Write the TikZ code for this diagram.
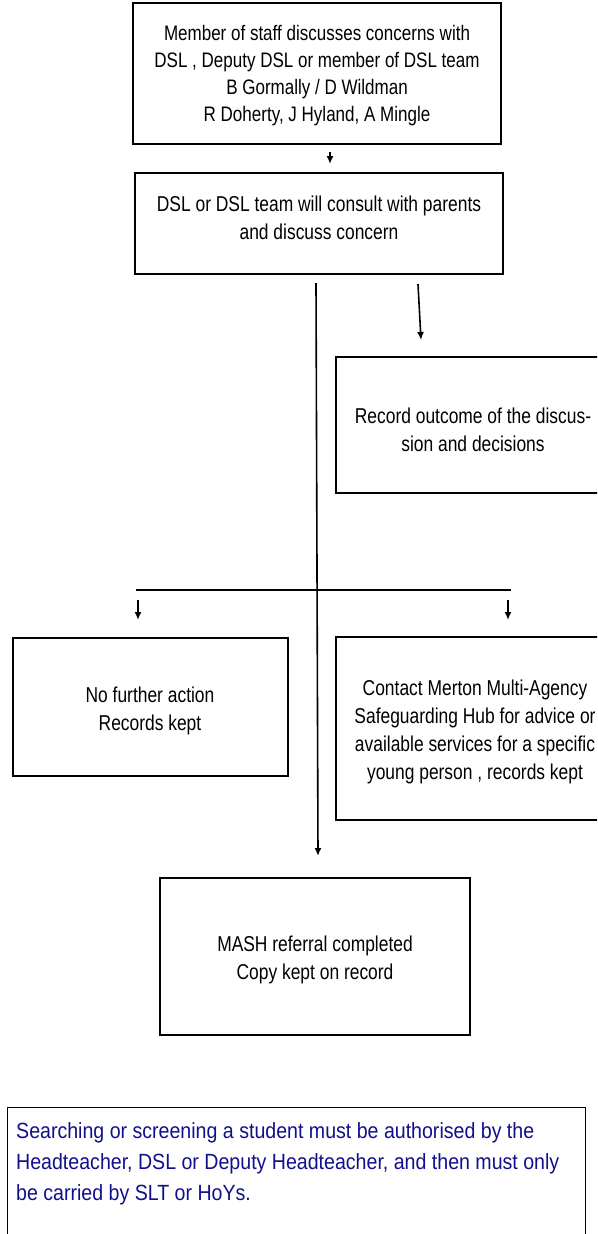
\documentclass[tikz,border=0pt]{standalone}
\usepackage{fontspec}
\setmainfont{Liberation Sans}
\newfontfamily\flowfont[FakeStretch=0.81]{Liberation Sans}
\newfontfamily\notefont[FakeStretch=0.89]{Liberation Sans}
\usetikzlibrary{arrows.meta}
\definecolor{navytext}{RGB}{16,16,140}
\begin{document}
\begin{tikzpicture}[x=1pt,y=-1pt,
  box/.style={draw=black,line width=1.8pt,inner sep=0pt,fill=none},
  txt/.style={align=center,inner sep=0pt,font=\flowfont\fontsize{21.5}{28}\selectfont},
  conn/.style={draw=black,line width=1.6pt},
  arr/.style={conn,-{Latex[length=8pt,width=7pt]}}]
\useasboundingbox (0,0) rectangle (597,1234);
\clip (0,0) rectangle (597,1234);
% boxes
\node[box,minimum width=368pt,minimum height=141pt] (b1) at (317,73.5) {};
\node[box,minimum width=368pt,minimum height=101pt] (b2) at (319,223.5) {};
\node[box,minimum width=274pt,minimum height=136pt] (rec) at (473,425) {};
\node[box,minimum width=275pt,minimum height=138pt] (nfa) at (150.5,707) {};
\node[box,minimum width=274pt,minimum height=183pt] (mer) at (473,728.5) {};
\node[box,minimum width=310pt,minimum height=157pt] (mash) at (315,956.5) {};
\node[draw=black,line width=1pt,inner sep=0pt,minimum width=578pt,minimum height=150pt] (note) at (296,1182) {};
% texts
\node[txt,font=\flowfont\fontsize{21}{27}\selectfont] (t1) at (317,76) {Member of staff discusses concerns with\\DSL , Deputy DSL or member of DSL team\\B Gormally / D Wildman\\R Doherty, J Hyland, A Mingle};
\node[txt] (t2) at (319,218) {DSL or DSL team will consult with parents\\and discuss concern};
\node[txt] (trec) at (473,429.5) {Record outcome of the discus-\\sion and decisions};
\node[txt] (tnfa) at (150,710.5) {No further action\\Records kept};
\node[txt] (tmer) at (475,732) {Contact Merton Multi-Agency\\Safeguarding Hub for advice or\\available services for a specific\\young person , records kept};
\node[txt] (tmash) at (315,959.5) {MASH referral completed\\Copy kept on record};
\node[anchor=north west,align=left,inner sep=0pt,text=navytext,font=\notefont\fontsize{22}{31}\selectfont] (tnote) at (16,1122) {Searching or screening a student must be authorised by the\\Headteacher, DSL or Deputy Headteacher, and then must only\\be carried by SLT or HoYs.};
% connector ends
\coordinate (a1s) at (330,152);
\coordinate (a1e) at (330,164);
\coordinate (vs) at (316,283);
\coordinate (ve) at (318,856);
\coordinate (rs) at (418,284);
\coordinate (re) at (421,340);
\coordinate (hl) at (136,590);
\coordinate (hr) at (511,590);
\coordinate (las) at (138,600);
\coordinate (lae) at (138,620);
\coordinate (ras) at (508,600);
\coordinate (rae) at (508,620);
% connectors
\draw[arr] (a1s) -- (a1e);
\draw[arr] (vs) -- (ve);
\draw[arr] (rs) -- (re);
\draw[conn] (hl) -- (hr);
\draw[arr] (las) -- (lae);
\draw[arr] (ras) -- (rae);
\end{tikzpicture}
\end{document}
